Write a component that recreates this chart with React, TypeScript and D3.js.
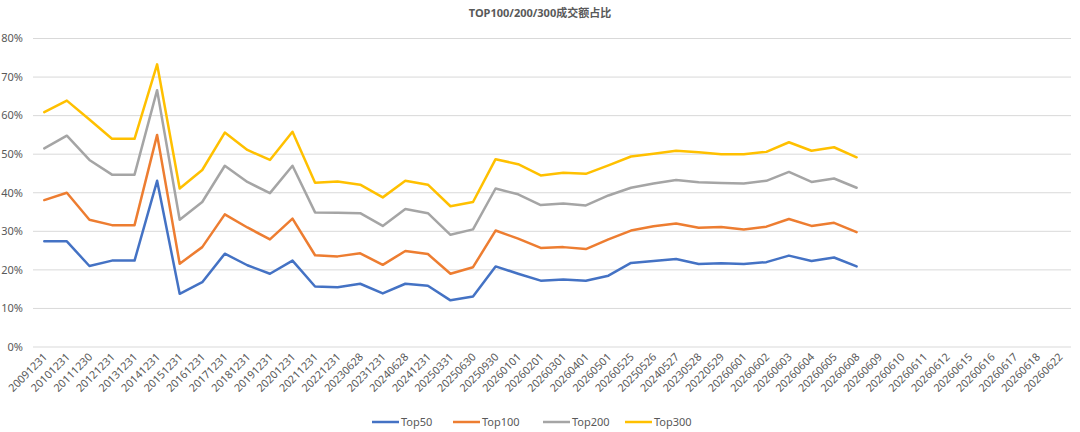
import React from "react";
import * as d3 from "d3";

const categories = [
  "20091231","20101231","20111230","20121231","20131231","20141231","20151231","20161231",
  "20171231","20181231","20191231","20201231","20211231","20221231","20230628","20231231",
  "20240628","20241231","20250331","20250630","20250930","20260101","20260201","20260301",
  "20260401","20260501","20260525","20250526","20240527","20230528","20220529","20260601",
  "20260602","20260603","20260604","20260605","20260608","20260609","20260610","20260611",
  "20260612","20260615","20260616","20260617","20260618","20260622",
];

const top50 = [27.4,27.4,21.0,22.4,22.4,43.1,13.8,16.8,24.2,21.2,19.0,22.4,15.7,15.5,16.4,13.9,16.4,15.9,12.1,13.1,20.9,19.0,17.2,17.5,17.2,18.5,21.8,22.3,22.8,21.5,21.7,21.5,22.0,23.7,22.3,23.2,20.9];
const top100 = [38.1,40.0,33.0,31.6,31.6,55.0,21.6,25.9,34.4,31.0,27.9,33.3,23.8,23.5,24.3,21.3,24.9,24.1,19.0,20.7,30.2,28.1,25.7,25.9,25.4,27.9,30.2,31.3,32.0,30.9,31.1,30.5,31.2,33.2,31.4,32.2,29.8];
const top200 = [51.5,54.8,48.5,44.7,44.7,66.6,33.0,37.6,47.0,42.8,39.9,47.0,34.9,34.8,34.7,31.4,35.8,34.7,29.1,30.5,41.1,39.6,36.8,37.2,36.7,39.3,41.3,42.4,43.3,42.7,42.5,42.4,43.1,45.4,42.8,43.7,41.3];
const top300 = [60.9,63.9,59.0,54.0,54.0,73.3,41.1,45.9,55.6,51.1,48.5,55.8,42.6,42.9,42.1,38.8,43.1,42.1,36.5,37.6,48.7,47.4,44.5,45.2,44.9,47.1,49.4,50.1,50.9,50.5,50.0,50.0,50.6,53.1,50.9,51.8,49.2];

const yTicks = [0, 10, 20, 30, 40, 50, 60, 70, 80];
const seriesNames = ["Top50", "Top100", "Top200", "Top300"];
const seriesData = [top50, top100, top200, top300];
const colors = ["#4472C4", "#ED7D31", "#A5A5A5", "#FFC000"];
const title = "TOP100/200/300成交额占比";

const W = 1080, H = 432;
const left = 33, right = 1071, top = 38.5, bottom = 347;
const font = "'Noto Sans', 'Noto Sans CJK SC', sans-serif";

export default function App() {
  const x = d3.scaleBand<string>().domain(categories).range([left, right]);
  const y = d3.scaleLinear().domain([0, 80]).range([bottom, top]);
  const line = d3
    .line<number>()
    .x((_, i) => (x(categories[i]) as number) + x.bandwidth() / 2)
    .y((d) => y(d));

  const legendX = [372, 453, 543, 625];

  return (
    <svg width={W} height={H} style={{ position: "absolute", left: 0, top: 0, background: "#fff" }}>
      <rect width={W} height={H} fill="#fff" />
      <text x={540} y={17} textAnchor="middle" fontFamily={font} fontSize={11} fontWeight="bold" fill="#595959">
        {title}
      </text>
      {yTicks.map((t) => (
        <g key={t}>
          <line x1={left} x2={right} y1={y(t)} y2={y(t)} stroke="#D9D9D9" strokeWidth={1} />
          <text x={23} y={y(t)} dy="0.35em" textAnchor="end" fontFamily={font} fontSize={11} fill="#595959">
            {t}%
          </text>
        </g>
      ))}
      {categories.map((c) => {
        const cx = (x(c) as number) + x.bandwidth() / 2;
        return (
          <text
            key={c}
            transform={`translate(${cx + 1},${bottom + 8}) rotate(-45)`}
            textAnchor="end"
            dy="0.35em"
            fontFamily={font}
            fontSize={10.8}
            fill="#595959"
          >
            {c}
          </text>
        );
      })}
      {seriesData.map((s, i) => (
        <path key={i} d={line(s) || ""} fill="none" stroke={colors[i]} strokeWidth={2.5} strokeLinejoin="round" strokeLinecap="round" />
      ))}
      {seriesNames.map((n, i) => (
        <g key={n}>
          <line x1={legendX[i]} x2={legendX[i] + 27} y1={422} y2={422} stroke={colors[i]} strokeWidth={2.5} />
          <text x={legendX[i] + 29} y={422} dy="0.35em" fontFamily={font} fontSize={11} fill="#595959">
            {n}
          </text>
        </g>
      ))}
    </svg>
  );
}
